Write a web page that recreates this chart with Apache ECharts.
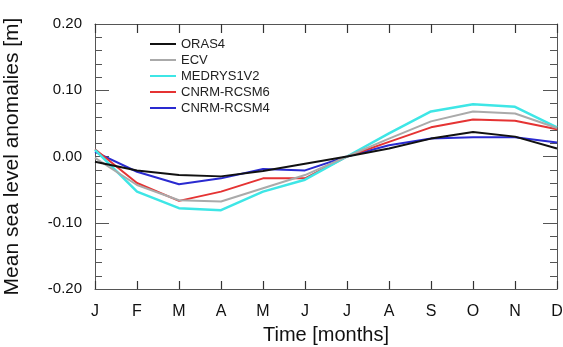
<!DOCTYPE html>
<html>
<head>
<meta charset="utf-8">
<script src="https://cdn.jsdelivr.net/npm/echarts@6/dist/echarts.min.js"></script>
<style>
  html, body { margin: 0; padding: 0; background: #fff; }
  #main { width: 563px; height: 347px; }
</style>
</head>
<body>
<div id="main"></div>
<script>
var months = ['J', 'F', 'M', 'A', 'M', 'J', 'J', 'A', 'S', 'O', 'N', 'D'];
var oras4 = [-0.008, -0.021, -0.028, -0.030, -0.022, -0.011, 0.000, 0.012, 0.027, 0.037, 0.030, 0.012];
var ecv = [-0.002, -0.043, -0.066, -0.068, -0.048, -0.028, 0.000, 0.027, 0.053, 0.068, 0.065, 0.043];
var medrys = [0.010, -0.053, -0.078, -0.081, -0.053, -0.035, 0.000, 0.035, 0.068, 0.079, 0.075, 0.044];
var rcsm6 = [0.011, -0.040, -0.067, -0.053, -0.033, -0.033, 0.000, 0.022, 0.044, 0.056, 0.054, 0.041];
var rcsm4 = [0.007, -0.023, -0.042, -0.033, -0.019, -0.021, 0.000, 0.017, 0.027, 0.029, 0.029, 0.021];

var seriesNames = ['ORAS4', 'ECV', 'MEDRYS1V2', 'CNRM-RCSM6', 'CNRM-RCSM4'];
var seriesData = [oras4, ecv, medrys, rcsm6, rcsm4];
var seriesColors = ['#111111', '#aaaaaa', '#3ee6e6', '#e53333', '#2a2ad0'];
var yMin = -0.2, yMax = 0.2;

var font = 'Liberation Sans, Arial, sans-serif';
var chart = echarts.init(document.getElementById('main'));

var series = seriesNames.map(function (name, i) {
    return {
        name: name,
        type: 'line',
        // 月份序号作为 x 值
        data: seriesData[i].map(function (v, k) { return [k, v]; }),
        symbol: 'none',
        lineStyle: { color: seriesColors[i], width: i === 2 ? 2.5 : 2 },
        itemStyle: { color: seriesColors[i] },
        z: 10 - i
    };
});

// x 轴上下两边的内向刻度
series.push({
    type: 'custom',
    silent: true,
    clip: false,
    encode: { x: 0, y: 1 },
    data: months.map(function (m, k) { return [k, 0]; }),
    renderItem: function (params, api) {
        var k = api.value(0);
        var b = api.coord([k, yMin]);
        var t = api.coord([k, yMax]);
        var x = Math.round(b[0]) + 0.5;
        var st = { stroke: '#333', lineWidth: 1.2 };
        return {
            type: 'group',
            children: [
                { type: 'line', shape: { x1: x, y1: b[1], x2: x, y2: b[1] - 8 }, style: st },
                { type: 'line', shape: { x1: x, y1: t[1], x2: x, y2: t[1] + 9 }, style: st }
            ]
        };
    },
    z: 20
});

var yTick = { show: true, inside: true, length: 14, lineStyle: { color: '#555' } };
var yMinor = { show: true, splitNumber: 5, length: 7, lineStyle: { color: '#555' } };

var option = {
    backgroundColor: '#fff',
    animation: false,
    grid: { left: 95, right: 6, top: 24, bottom: 58, outerBoundsMode: 'none', containLabel: false },
    legend: {
        data: seriesNames,
        orient: 'vertical',
        left: 145,
        top: 32,
        icon: 'rect',
        itemWidth: 26,
        itemHeight: 2,
        itemGap: 2,
        textStyle: { fontFamily: font, fontSize: 13, color: '#222', lineHeight: 14 }
    },
    xAxis: [{
        type: 'value',
        position: 'bottom',
        min: 0,
        max: 11,
        interval: 1,
        name: 'Time [months]',
        nameLocation: 'middle',
        nameGap: 36,
        nameTextStyle: { fontFamily: font, fontSize: 20, color: '#111' },
        axisLine: { show: true, onZero: false, lineStyle: { color: '#555', width: 1 } },
        axisTick: { show: false },
        splitLine: { show: false },
        axisLabel: {
            fontFamily: font, fontSize: 16, color: '#111', margin: 15,
            showMinLabel: true, showMaxLabel: true,
            formatter: function (v) { return months[v] || ''; }
        }
    }, {
        type: 'value',
        position: 'top',
        min: 0,
        max: 11,
        interval: 1,
        axisLine: { show: true, onZero: false, lineStyle: { color: '#555', width: 1 } },
        axisTick: { show: false },
        splitLine: { show: false },
        axisLabel: { show: false }
    }],
    yAxis: [{
        type: 'value',
        position: 'left',
        min: yMin,
        max: yMax,
        interval: 0.1,
        name: 'Mean sea level anomalies [m]',
        nameLocation: 'middle',
        nameGap: 72,
        nameTextStyle: { fontFamily: font, fontSize: 21, color: '#111' },
        axisLine: { show: true, onZero: false, lineStyle: { color: '#555', width: 1 } },
        axisTick: yTick,
        minorTick: yMinor,
        splitLine: { show: false },
        axisLabel: {
            fontFamily: font, fontSize: 15, color: '#111', margin: 13,
            formatter: function (v) { return v.toFixed(2); }
        }
    }, {
        type: 'value',
        position: 'right',
        min: yMin,
        max: yMax,
        interval: 0.1,
        axisLine: { show: true, onZero: false, lineStyle: { color: '#555', width: 1 } },
        axisTick: yTick,
        minorTick: yMinor,
        splitLine: { show: false },
        axisLabel: { show: false }
    }],
    series: series
};

chart.setOption(option);
</script>
</body>
</html>
